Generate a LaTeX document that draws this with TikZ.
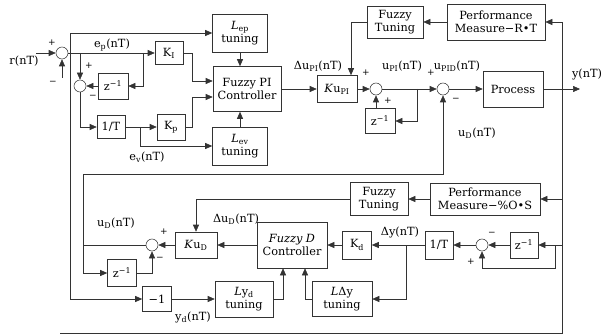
\documentclass[tikz,border=0pt]{standalone}
\usepackage{fontspec}
\setmainfont{DejaVu Serif}
\usetikzlibrary{arrows.meta,calc}
\newcommand{\fsz}{\fontsize{11.3}{12.8}\selectfont}
\tikzset{
  blk/.style={draw=black!80, line width=0.55pt, inner sep=1pt, align=center, font=\fsz},
  sumc/.style={circle, draw=black!80, line width=0.55pt, minimum size=12pt, inner sep=0pt},
  ln/.style={draw=black!80, line width=0.55pt},
  arr/.style={-{Triangle[length=7pt,width=6pt]}},
  lbl/.style={font=\fsz, inner sep=0pt},
  sgn/.style={font=\fontsize{9}{10}\selectfont, inner sep=0pt}
}
\begin{document}
\begin{tikzpicture}[x=1pt,y=-1pt]
\useasboundingbox (0,0) rectangle (612,334);
% upper loop
\node[sumc] (c1) at (62,53) {};
\node[blk,minimum width=28pt,minimum height=23pt] (KI) at (169,53) {K\textsubscript{I}};
\node[blk,minimum width=30pt,minimum height=26pt] (z1) at (113,86) {z\textsuperscript{−1}};
\node[sumc] (c4) at (80,86) {};
\node[blk,minimum width=28pt,minimum height=23pt] (iT1) at (111,127) {1/T};
\node[blk,minimum width=28pt,minimum height=26pt] (Kp) at (171,127) {K\textsubscript{p}};
\node[blk,minimum width=55pt,minimum height=38pt] (Lep) at (240,33) {\textit{L}\textsubscript{ep}\\tuning};
\node[blk,minimum width=68pt,minimum height=45pt] (FPI) at (247,89) {Fuzzy PI\\Controller};
\node[blk,minimum width=55pt,minimum height=38pt] (Lev) at (240,146) {\textit{L}\textsubscript{ev}\\tuning};
\node[blk,minimum width=40pt,minimum height=27pt] (KuPI) at (337,89) {\textit{K}u\textsubscript{PI}};
\node[sumc] (c5) at (376,89) {};
\node[blk,minimum width=30pt,minimum height=25pt] (z2) at (380,121) {z\textsuperscript{−1}};
\node[sumc] (c2) at (443,89) {};
\node[blk,minimum width=60pt,minimum height=36pt] (Proc) at (513,89) {Process};
\node[blk,minimum width=56pt,minimum height=32pt] (FT1) at (395,22) {Fuzzy\\Tuning};
\node[blk,minimum width=98pt,minimum height=36pt] (PM1) at (496,22) {Performance\\Measure−R•T};
% lower loop
\node[blk,minimum width=58pt,minimum height=33pt] (FT2) at (379,199) {Fuzzy\\Tuning};
\node[blk,minimum width=110pt,minimum height=32pt] (PM2) at (485,199) {Performance\\Measure−\%O•S};
\node[blk,minimum width=42pt,minimum height=26pt] (KuD) at (196,245) {\textit{K}u\textsubscript{D}};
\node[sumc] (c3) at (152,245) {};
\node[blk,minimum width=29pt,minimum height=27pt] (z3) at (122,273) {z\textsuperscript{−1}};
\node[blk,minimum width=29pt,minimum height=25pt] (m1) at (157,299) {−1};
\node[blk,minimum width=58pt,minimum height=36pt] (LYd) at (244,299) {\textit{L}y\textsubscript{d}\\tuning};
\node[blk,minimum width=70pt,minimum height=46pt] (FD) at (292,245) {\textit{Fuzzy D}\\Controller};
\node[blk,minimum width=60pt,minimum height=35pt] (LDy) at (342,299) {\textit{L}Δy\\tuning};
\node[blk,minimum width=29pt,minimum height=28pt] (Kd) at (357,245) {K\textsubscript{d}};
\node[blk,minimum width=28pt,minimum height=28pt] (iT2) at (439,245) {1/T};
\node[sumc] (c6) at (482,245) {};
\node[blk,minimum width=28pt,minimum height=26pt] (z4) at (524,245) {z\textsuperscript{−1}};
% junctions
\coordinate (rin) at (36,53);
\coordinate (j1) at (70,53);
\coordinate (j2) at (80,53);
\coordinate (j3) at (143,53);
\coordinate (j4) at (140,127);
\coordinate (j5) at (417,89);
\coordinate (j6) at (562,89);
\coordinate (yout) at (580,89);
\coordinate (j7) at (83,245);
\coordinate (j8) at (406,245);
\coordinate (j9) at (555,245);
\coordinate (j10) at (555,268);
\coordinate (fb) at (60,333);
\coordinate (fbc) at (62,78);
\coordinate (k1) at (192,53);
\coordinate (k2) at (192,127);
\coordinate (ud) at (83,174);
% connectors upper
\draw[ln,arr] (rin) -- (c1);
\draw[ln,arr] (fbc) -- (c1);
\draw[ln,arr] (c1) -- (KI);
\draw[ln,arr] (j1) |- (Lep.west);
\draw[ln,arr] (j1) |- (m1.west);
\draw[ln,arr] (j2) -- (c4);
\draw[ln,arr] (j3) |- (z1.east);
\draw[ln,arr] (z1) -- (c4);
\draw[ln,arr] (c4) |- (iT1.west);
\draw[ln,arr] (iT1) -- (Kp);
\draw[ln,arr] (j4) |- (Lev.west);
\draw[ln,arr] (KI.east) -- (k1) |- ([yshift=8pt]FPI.west);
\draw[ln,arr] (Kp.east) -- (k2) |- ([yshift=-8pt]FPI.west);
\draw[ln,arr] (Lep) -- (Lep.south |- FPI.north);
\draw[ln,arr] (Lev) -- (Lev.north |- FPI.south);
\draw[ln,arr] (FPI) -- (KuPI);
\draw[ln,arr] (FT1.west) -| ([xshift=14pt]KuPI.north);
\draw[ln,arr] (KuPI) -- (c5);
\draw[ln,arr] (c5 |- z2.north) -- (c5);
\draw[ln,arr] (c5) -- (c2);
\draw[ln,arr] (j5) |- (z2.east);
\draw[ln,arr] (c2) -- (Proc);
\draw[ln,arr] (Proc) -- (yout);
\draw[ln,arr] (j6) |- (PM1.east);
\draw[ln] (j6) |- (fb);
\draw[ln,arr] (PM1) -- (FT1);
% connectors lower
\draw[ln,arr] (j6 |- PM2.east) -- (PM2.east);
\draw[ln,arr] (j6 |- z4.east) -- (z4.east);
\draw[ln,arr] (j9) -- (j10) -| (c6.south);
\draw[ln,arr] (PM2) -- (FT2);
\draw[ln,arr] (FT2.west) -| (KuD.north);
\draw[ln,arr] (FD) -- (KuD);
\draw[ln,arr] (KuD) -- (c3);
\draw[ln,arr] (z3.east) -| (c3.south);
\draw[ln,arr] (c3.west) -- (j7) -- (ud) -| (c2.south);
\draw[ln,arr] (j7) |- (z3.west);
\draw[ln,arr] (m1) -- (LYd);
\draw[ln,arr] (LYd.east) -| ([xshift=-9pt]FD.south);
\draw[ln,arr] (LDy.west) -| ([xshift=13pt]FD.south);
\draw[ln,arr] (Kd) -- (FD);
\draw[ln,arr] (iT2) -- (Kd);
\draw[ln,arr] (j8) |- (LDy.east);
\draw[ln,arr] (c6) -- (iT2);
\draw[ln,arr] (z4) -- (c6);
% labels
\node[lbl] (lr) at (24,61) {r(nT)};
\node[lbl] (lep) at (112,45) {e\textsubscript{p}(nT)};
\node[lbl] (lev) at (147,157) {e\textsubscript{v}(nT)};
\node[lbl] (ldupi) at (318,66) {Δu\textsubscript{PI}(nT)};
\node[lbl] (lupi) at (402,66) {u\textsubscript{PI}(nT)};
\node[lbl] (lupid) at (457,66) {u\textsubscript{PID}(nT)};
\node[lbl] (ly) at (587,74) {y(nT)};
\node[lbl] (lud1) at (477,133) {u\textsubscript{D}(nT)};
\node[lbl] (ldud) at (236,219) {Δu\textsubscript{D}(nT)};
\node[lbl] (lud2) at (116,223) {u\textsubscript{D}(nT)};
\node[lbl] (ldy) at (400,232) {Δy(nT)};
\node[lbl] (lyd) at (193,317) {y\textsubscript{d}(nT)};
\node[sgn] (s1) at (52,43) {+};
\node[sgn] (s2) at (53,83) {−};
\node[sgn] (s3) at (89,66) {+};
\node[sgn] (s4) at (93,97) {−};
\node[sgn] (s5) at (366,73) {+};
\node[sgn] (s6) at (388,101) {+};
\node[sgn] (s7) at (431,73) {+};
\node[sgn] (s8) at (456,100) {−};
\node[sgn] (s9) at (164,232) {+};
\node[sgn] (s10) at (160,259) {−};
\node[sgn] (s11) at (492,234) {−};
\node[sgn] (s12) at (471,262) {+};
\end{tikzpicture}
\end{document}
